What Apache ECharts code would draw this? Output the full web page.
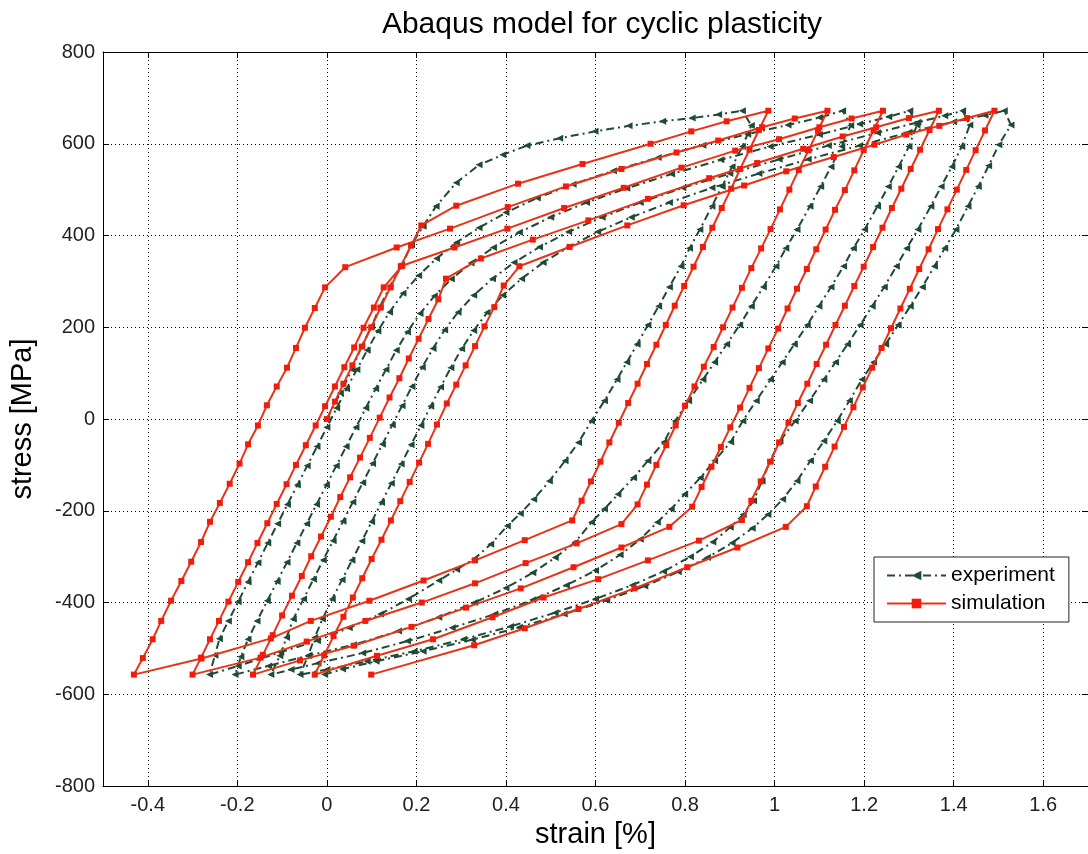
<!DOCTYPE html>
<html>
<head>
<meta charset="utf-8">
<script src="https://cdn.jsdelivr.net/npm/echarts@6.0.0/dist/echarts.min.js"></script>
<style>
  html, body { margin: 0; padding: 0; background: #fff; }
  #chart { width: 1088px; height: 854px; }
</style>
</head>
<body>
<div id="chart"></div>
<script>
// ---- labels ----
const chartTitle = 'Abaqus model for cyclic plasticity';
const xName = 'strain [%]';
const yName = 'stress [MPa]';
const xTicks = [-0.4, -0.2, 0, 0.2, 0.4, 0.6, 0.8, 1, 1.2, 1.4, 1.6];

// ---- simulation (strain %, stress MPa), branch by branch ----
const simLoad0 = [[0,0],[0.018,38],[0.037,77],[0.057,117],[0.078,158],[0.099,200],[0.120,243],[0.142,287],[0.165,333],[0.188,378],[0.211,422],[0.289,465],[0.427,513],[0.571,556],[0.723,600],[0.814,627],[0.893,649],[0.986,672]];
const simUnload1 = [[0.965,630],[0.944,587],[0.923,545],[0.903,502],[0.882,460],[0.861,417],[0.840,375],[0.819,332],[0.798,290],[0.777,247],[0.757,205],[0.736,162],[0.715,120],[0.694,77],[0.673,35],[0.652,-8],[0.631,-51],[0.611,-93],[0.590,-136],[0.569,-178],[0.548,-221],[0.442,-264],[0.331,-308],[0.216,-352],[0.095,-396],[-0.036,-440],[-0.125,-478],[-0.280,-522],[-0.431,-557]];
const simLoad1 = [[-0.411,-521],[-0.389,-480],[-0.370,-440],[-0.348,-396],[-0.325,-353],[-0.303,-311],[-0.281,-268],[-0.261,-224],[-0.239,-183],[-0.217,-141],[-0.195,-97],[-0.176,-55],[-0.154,-14],[-0.134,30],[-0.112,71],[-0.089,112],[-0.069,155],[-0.049,199],[-0.027,242],[-0.004,287],[0.041,331],[0.156,374],[0.275,415],[0.404,462],[0.534,507],[0.658,545],[0.781,581],[0.874,607],[0.972,636],[1.045,655],[1.118,672]];
const simUnload2 = [[1.097,629],[1.076,586],[1.054,543],[1.033,500],[1.012,457],[0.991,414],[0.970,372],[0.948,329],[0.927,286],[0.906,243],[0.885,200],[0.864,157],[0.842,114],[0.821,71],[0.800,29],[0.779,-14],[0.758,-57],[0.736,-100],[0.715,-143],[0.694,-186],[0.658,-229],[0.558,-271],[0.444,-314],[0.331,-358],[0.212,-400],[0.086,-440],[-0.045,-485],[-0.148,-520],[-0.300,-557]];
const simLoad2 = [[-0.281,-520],[-0.261,-480],[-0.241,-440],[-0.220,-398],[-0.198,-355],[-0.176,-312],[-0.155,-270],[-0.133,-227],[-0.112,-185],[-0.090,-142],[-0.069,-100],[-0.047,-57],[-0.025,-14],[-0.004,28],[0.018,71],[0.039,113],[0.061,156],[0.082,199],[0.105,243],[0.127,287],[0.168,334],[0.285,374],[0.403,415],[0.530,460],[0.663,504],[0.792,548],[0.912,585],[1.010,610],[1.100,636],[1.172,655],[1.242,672]];
const simUnload3 = [[1.221,629],[1.199,586],[1.178,542],[1.157,499],[1.135,456],[1.114,413],[1.093,370],[1.072,327],[1.050,284],[1.029,241],[1.008,197],[0.986,154],[0.965,111],[0.944,68],[0.923,25],[0.901,-18],[0.880,-61],[0.859,-104],[0.837,-148],[0.816,-191],[0.765,-235],[0.658,-280],[0.551,-323],[0.433,-369],[0.311,-411],[0.189,-453],[0.060,-494],[-0.060,-526],[-0.165,-557]];
const simLoad3 = [[-0.143,-514],[-0.121,-471],[-0.100,-428],[-0.078,-385],[-0.056,-342],[-0.035,-299],[-0.013,-256],[0.009,-213],[0.030,-170],[0.052,-127],[0.074,-84],[0.096,-41],[0.118,3],[0.140,47],[0.162,89],[0.183,132],[0.205,175],[0.227,218],[0.249,261],[0.266,306],[0.344,350],[0.460,391],[0.584,433],[0.717,480],[0.854,525],[0.961,558],[1.064,589],[1.152,616],[1.227,636],[1.300,656],[1.367,672]];
const simUnload4 = [[1.346,630],[1.325,587],[1.304,545],[1.283,502],[1.262,460],[1.241,417],[1.220,375],[1.199,332],[1.178,290],[1.157,247],[1.136,205],[1.115,162],[1.094,120],[1.073,77],[1.052,35],[1.031,-8],[1.010,-51],[0.990,-93],[0.969,-136],[0.948,-178],[0.927,-220],[0.831,-265],[0.717,-308],[0.606,-349],[0.484,-389],[0.370,-432],[0.237,-480],[0.112,-516],[-0.027,-557]];
const simLoad4 = [[-0.006,-515],[0.015,-473],[0.037,-431],[0.058,-389],[0.079,-347],[0.100,-305],[0.122,-263],[0.143,-221],[0.164,-179],[0.185,-137],[0.206,-95],[0.226,-54],[0.246,-12],[0.268,34],[0.289,75],[0.310,117],[0.331,159],[0.352,202],[0.374,244],[0.395,291],[0.430,333],[0.542,375],[0.671,422],[0.797,466],[0.932,509],[1.026,540],[1.132,571],[1.223,598],[1.294,620],[1.368,639],[1.430,656],[1.491,672]];
const simUnload5 = [[1.470,629],[1.449,586],[1.428,543],[1.407,500],[1.386,457],[1.365,414],[1.344,370],[1.323,327],[1.302,284],[1.281,241],[1.260,198],[1.239,155],[1.218,112],[1.197,69],[1.176,26],[1.155,-17],[1.134,-60],[1.113,-104],[1.092,-147],[1.072,-190],[1.025,-235],[0.917,-280],[0.805,-323],[0.687,-369],[0.562,-414],[0.442,-456],[0.329,-493],[0.099,-557]];

// ---- experiment (strain %, stress MPa), branch by branch ----
const expLoad0 = [[0,0],[0.030,57],[0.056,108],[0.078,159],[0.100,202],[0.119,246],[0.141,289],[0.167,335],[0.189,380],[0.215,420],[0.244,464],[0.289,515],[0.340,554],[0.393,576],[0.447,596],[0.520,612],[0.599,627],[0.675,639],[0.750,649],[0.816,656],[0.875,664],[0.928,672]];
const expUnload1 = [[0.948,640],[0.928,594],[0.905,550],[0.883,507],[0.860,464],[0.833,413],[0.810,372],[0.791,333],[0.765,288],[0.741,246],[0.717,205],[0.693,163],[0.670,124],[0.648,86],[0.620,40],[0.591,-4],[0.562,-51],[0.532,-91],[0.497,-135],[0.462,-175],[0.432,-206],[0.403,-233],[0.366,-273],[0.329,-305],[0.290,-328],[0.250,-352],[0.182,-392],[0.120,-425],[0.050,-455],[-0.021,-483],[-0.103,-508],[-0.198,-538],[-0.262,-557]];
const expLoad1 = [[-0.250,-515],[-0.240,-479],[-0.220,-440],[-0.198,-398],[-0.176,-355],[-0.154,-313],[-0.132,-270],[-0.110,-228],[-0.088,-186],[-0.066,-144],[-0.044,-102],[-0.022,-60],[0.000,-18],[0.022,24],[0.044,66],[0.067,108],[0.090,150],[0.114,192],[0.140,233],[0.170,274],[0.205,313],[0.245,350],[0.290,385],[0.340,417],[0.400,450],[0.470,482],[0.550,512],[0.640,541],[0.740,570],[0.840,597],[0.940,621],[1.030,641],[1.100,657],[1.152,672]];
const expUnload2 = [[1.170,640],[1.150,594],[1.126,550],[1.103,507],[1.079,464],[1.050,413],[1.025,372],[1.003,333],[0.975,288],[0.948,246],[0.922,205],[0.893,163],[0.866,124],[0.840,86],[0.808,40],[0.778,-4],[0.753,-50],[0.717,-91],[0.685,-128],[0.650,-164],[0.620,-196],[0.591,-225],[0.554,-269],[0.510,-302],[0.460,-335],[0.400,-368],[0.330,-400],[0.250,-432],[0.160,-462],[0.060,-492],[-0.040,-515],[-0.130,-538],[-0.205,-557]];
const expLoad2 = [[-0.192,-518],[-0.176,-480],[-0.156,-440],[-0.133,-396],[-0.111,-354],[-0.089,-312],[-0.067,-270],[-0.045,-228],[-0.023,-186],[-0.001,-144],[0.021,-102],[0.043,-60],[0.065,-18],[0.087,24],[0.109,66],[0.132,108],[0.155,150],[0.180,190],[0.208,230],[0.240,268],[0.278,305],[0.322,340],[0.372,374],[0.430,407],[0.500,440],[0.580,472],[0.670,503],[0.770,534],[0.880,565],[0.990,594],[1.100,620],[1.190,643],[1.255,659],[1.302,672]];
const expUnload3 = [[1.318,641],[1.300,594],[1.277,550],[1.254,507],[1.230,464],[1.201,413],[1.176,372],[1.154,333],[1.126,288],[1.099,246],[1.073,205],[1.044,163],[1.017,124],[0.991,86],[0.959,40],[0.929,-4],[0.902,-50],[0.866,-91],[0.834,-128],[0.799,-164],[0.769,-196],[0.738,-225],[0.700,-262],[0.655,-296],[0.600,-330],[0.535,-362],[0.460,-394],[0.375,-425],[0.280,-455],[0.180,-484],[0.080,-510],[-0.020,-532],[-0.080,-546],[-0.125,-557]];
const expLoad3 = [[-0.105,-516],[-0.090,-476],[-0.075,-436],[-0.052,-392],[-0.030,-349],[-0.008,-307],[0.014,-265],[0.036,-223],[0.058,-181],[0.080,-139],[0.102,-97],[0.124,-55],[0.146,-13],[0.168,29],[0.190,71],[0.213,113],[0.237,154],[0.263,194],[0.293,233],[0.328,270],[0.370,306],[0.418,341],[0.475,375],[0.540,408],[0.615,440],[0.700,472],[0.795,504],[0.900,535],[1.010,566],[1.120,596],[1.230,624],[1.320,647],[1.380,661],[1.420,672]];
const expUnload4 = [[1.436,641],[1.418,594],[1.396,550],[1.372,507],[1.349,464],[1.320,413],[1.295,372],[1.272,333],[1.245,288],[1.218,246],[1.191,205],[1.163,163],[1.136,124],[1.110,86],[1.078,40],[1.046,-4],[1.012,-48],[0.990,-91],[0.972,-135],[0.953,-178],[0.930,-208],[0.901,-236],[0.862,-268],[0.812,-300],[0.752,-332],[0.682,-362],[0.600,-392],[0.510,-422],[0.410,-452],[0.305,-480],[0.195,-506],[0.090,-528],[0.000,-546],[-0.060,-557]];
const expLoad4 = [[-0.042,-516],[-0.027,-476],[-0.010,-436],[0.012,-392],[0.034,-350],[0.056,-308],[0.078,-266],[0.100,-224],[0.122,-182],[0.144,-140],[0.166,-98],[0.188,-56],[0.210,-14],[0.232,28],[0.254,70],[0.277,112],[0.301,153],[0.328,193],[0.358,232],[0.393,270],[0.435,306],[0.483,341],[0.540,375],[0.605,408],[0.680,440],[0.765,472],[0.860,504],[0.965,535],[1.075,566],[1.190,596],[1.300,625],[1.400,648],[1.470,662],[1.513,672]];
const expUnload5 = [[1.528,641],[1.501,598],[1.478,552],[1.455,507],[1.432,464],[1.405,413],[1.380,372],[1.357,333],[1.330,288],[1.303,246],[1.276,205],[1.248,163],[1.221,124],[1.195,86],[1.167,40],[1.140,-4],[1.110,-48],[1.080,-91],[1.050,-135],[1.018,-175],[0.985,-208],[0.950,-238],[0.905,-270],[0.850,-302],[0.785,-333],[0.710,-364],[0.625,-395],[0.530,-425],[0.430,-454],[0.325,-481],[0.215,-506],[0.110,-528],[0.035,-545],[-0.005,-557]];

// full load paths in time order
const simulation = [].concat(simLoad0, simUnload1, simLoad1, simUnload2, simLoad2,
  simUnload3, simLoad3, simUnload4, simLoad4, simUnload5);
const experiment = [].concat(expLoad0, expUnload1, expLoad1, expUnload2, expLoad2,
  expUnload3, expLoad3, expUnload4, expLoad4, expUnload5);

// ---- styling ----
const FONT = "'Liberation Sans', Arial, Helvetica, sans-serif";
const GREEN = '#1d4b33';
const RED_LINE = '#e5341a';
const RED_MARK = '#f21c0c';
const INK = '#000';

const gridDots = { show: true, lineStyle: { color: '#000', width: 1, type: [1, 3] } };

const chart = echarts.init(document.getElementById('chart'), null, { renderer: 'canvas' });
chart.setOption({
  animation: false,
  backgroundColor: '#fff',
  title: {
    text: chartTitle,
    left: 597, top: 5, textAlign: 'center',
    textStyle: { fontFamily: FONT, fontSize: 30, fontWeight: 'normal', color: INK }
  },
  grid: { left: 100, right: -6, top: 52, bottom: 67 },
  legend: {
    orient: 'vertical', left: 874, top: 557,
    padding: [8, 14, 8, 12], itemGap: 7,
    itemWidth: 59, itemHeight: 12,
    backgroundColor: '#fff', borderColor: '#222', borderWidth: 1,
    textStyle: { fontFamily: FONT, fontSize: 21, color: INK },
    data: ['experiment', 'simulation']
  },
  xAxis: [{
    type: 'value', min: -0.5, max: 1.7, position: 'bottom',
    name: xName, nameLocation: 'middle', nameGap: 30,
    nameTextStyle: { fontFamily: FONT, fontSize: 29, color: INK },
    axisLine: { show: true, onZero: false, lineStyle: { color: INK, width: 1 } },
    axisTick: { show: true, inside: true, length: 6, customValues: xTicks, lineStyle: { color: INK } },
    axisLabel: {
      customValues: xTicks, margin: 9,
      fontFamily: FONT, fontSize: 20, color: '#222',
      formatter: v => String(Math.round(v * 10) / 10)
    },
    splitLine: gridDots
  }, {
    type: 'value', min: -0.5, max: 1.7, position: 'top',
    axisLine: { show: true, onZero: false, lineStyle: { color: INK, width: 1 } },
    axisTick: { show: true, inside: true, length: 6, customValues: xTicks, lineStyle: { color: INK } },
    axisLabel: { show: false },
    splitLine: { show: false }
  }],
  yAxis: [{
    type: 'value', min: -800, max: 800, interval: 200, position: 'left',
    name: yName, nameLocation: 'middle', nameGap: 66, nameRotate: 90,
    nameTextStyle: { fontFamily: FONT, fontSize: 29, color: INK },
    axisLine: { show: true, onZero: false, lineStyle: { color: INK, width: 1 } },
    axisTick: { show: true, inside: true, length: 6, lineStyle: { color: INK } },
    axisLabel: { margin: 8, fontFamily: FONT, fontSize: 20, color: '#222' },
    splitLine: gridDots
  }, {
    type: 'value', min: -800, max: 800, interval: 200, position: 'right',
    axisLine: { show: true, onZero: false, lineStyle: { color: INK, width: 1 } },
    axisTick: { show: true, inside: true, length: 6, lineStyle: { color: INK } },
    axisLabel: { show: false },
    splitLine: { show: false }
  }],
  series: [{
    name: 'experiment', type: 'line', data: experiment,
    xAxisIndex: 0, yAxisIndex: 0, z: 2, silent: true,
    symbol: 'triangle', symbolRotate: 90, symbolSize: 7, showAllSymbol: true,
    lineStyle: { color: GREEN, width: 2, type: [8, 4, 2, 4] },
    itemStyle: { color: GREEN, borderWidth: 0 }
  }, {
    name: 'simulation', type: 'line', data: simulation,
    xAxisIndex: 0, yAxisIndex: 0, z: 3, silent: true,
    symbol: 'rect', symbolSize: 6, showAllSymbol: true,
    lineStyle: { color: RED_LINE, width: 2 },
    itemStyle: { color: RED_MARK, borderWidth: 0 }
  }]
});
</script>
</body>
</html>
